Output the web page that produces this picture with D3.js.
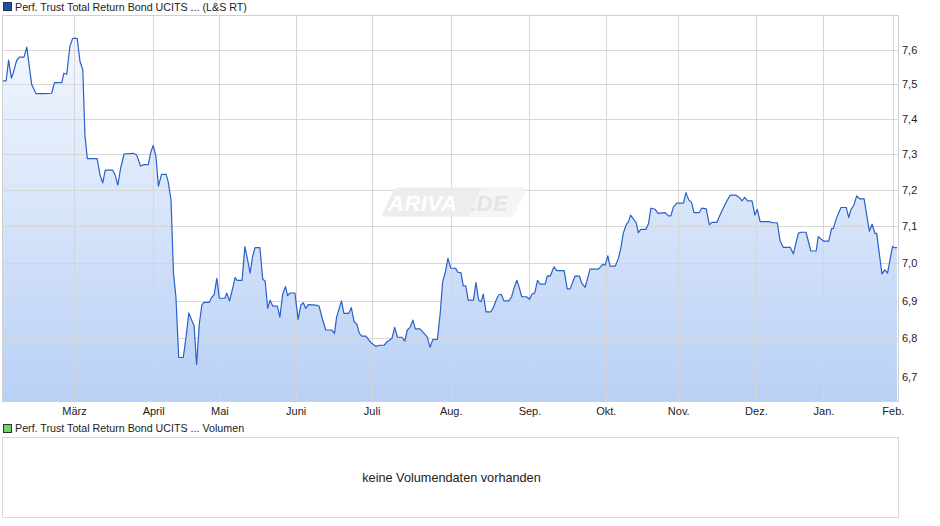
<!DOCTYPE html>
<html>
<head>
<meta charset="utf-8">
<script src="https://cdn.jsdelivr.net/npm/d3@7"></script>
<style>
  html, body { margin: 0; padding: 0; background: #fff; }
  svg { display: block; font-family: "Liberation Sans", Arial, sans-serif; }
</style>
</head>
<body>
<svg id="chart" width="940" height="526"></svg>
<script>
// ---- data (trading-session position, price) ----
const sessions = [0,0.9,1.6,2.4,2.9,3.9,4.7,6.0,6.8,8.2,9.4,12.0,13.9,14.7,16.8,17.4,18.2,19.1,19.9,21.2,22.0,22.8,23.4,24.1,26.9,27.7,28.5,29.2,31.3,32.0,32.8,33.6,34.6,37.2,38.2,39.3,40.1,41.5,42.2,42.9,43.7,44.4,45.3,46.6,47.2,48.0,48.7,49.4,50.2,51.5,52.3,53.1,53.9,54.6,55.3,56.1,56.8,57.4,58.9,59.6,60.3,61.1,61.8,63.4,63.9,64.7,65.5,66.3,66.9,68.3,69.1,69.8,70.6,71.3,72.0,73.4,74.2,74.9,75.6,76.3,77.1,78.4,79.1,79.9,80.7,81.3,82.0,83.4,84.3,85.1,85.8,86.5,87.2,89.4,90.3,91.2,92.2,93.9,94.7,95.3,96.7,97.4,98.8,99.5,100.3,101.1,101.8,102.5,103.7,104.5,105.3,106.6,107.5,108.9,109.8,111.1,111.9,112.7,114.0,114.8,115.5,116.3,117.1,117.8,119.1,120.1,121.2,122.0,122.8,124.1,124.9,125.6,126.4,127.1,127.9,129.3,130.0,130.8,131.5,132.2,132.9,134.4,135.1,135.9,136.6,137.2,138.0,139.4,140.1,141.1,141.8,142.4,143.1,144.5,145.3,146.0,146.8,147.4,148.2,149.6,150.4,151.1,151.9,152.7,153.4,154.9,155.5,156.3,157.4,158.2,160.3,161.2,162.0,163.4,164.7,165.3,166.3,167.7,170.1,171.3,172.0,172.8,173.4,174.9,175.8,176.5,177.2,178.0,178.7,179.3,180.1,180.9,181.5,182.2,183.7,184.4,185.1,186.3,187.2,189.1,190.1,190.8,191.5,192.5,194.4,195.1,195.9,196.7,197.4,198.9,199.6,200.9,201.8,202.5,203.9,205.3,206.3,207.7,209.4,210.4,211.1,211.9,212.7,214.0,214.8,215.5,216.3,219.1,219.7,221.2,222.0,222.9,224.9,225.8,227.2,227.9,229.4,230.8,232.3,232.9,234.4,235.9,236.7,237.2,238.0,239.4,240.9,241.6,242.2,243.1,243.9,244.7,246.0,247.5,248.3,249.1,249.6,251.1,251.9,252.7,254.1,254.7,255.4];
const prices = [7.510,7.510,7.570,7.518,7.532,7.569,7.579,7.579,7.608,7.499,7.473,7.473,7.474,7.505,7.505,7.532,7.529,7.610,7.634,7.634,7.566,7.542,7.355,7.288,7.288,7.243,7.220,7.256,7.256,7.243,7.214,7.261,7.301,7.303,7.298,7.267,7.271,7.271,7.305,7.325,7.294,7.211,7.244,7.244,7.223,7.173,6.973,6.910,6.750,6.750,6.804,6.867,6.848,6.833,6.732,6.839,6.888,6.895,6.895,6.908,6.915,6.959,6.906,6.906,6.920,6.899,6.928,6.961,6.954,6.954,7.045,7.013,6.973,7.018,7.042,7.042,6.957,6.952,6.879,6.901,6.885,6.885,6.856,6.917,6.937,6.913,6.920,6.920,6.850,6.888,6.894,6.879,6.889,6.888,6.885,6.853,6.822,6.822,6.813,6.856,6.899,6.866,6.866,6.881,6.844,6.837,6.813,6.806,6.806,6.796,6.787,6.779,6.782,6.782,6.792,6.800,6.829,6.803,6.803,6.793,6.822,6.829,6.848,6.825,6.825,6.815,6.804,6.777,6.797,6.797,6.866,6.950,6.977,7.013,6.987,6.986,6.975,6.975,6.939,6.939,6.901,6.901,6.948,6.901,6.897,6.917,6.870,6.870,6.882,6.906,6.916,6.916,6.899,6.899,6.910,6.933,6.954,6.937,6.910,6.910,6.903,6.917,6.920,6.954,6.944,6.944,6.966,6.965,6.990,6.980,6.980,6.931,6.931,6.965,6.965,6.947,6.935,6.984,6.984,6.997,6.995,7.020,6.992,6.992,7.013,7.041,7.081,7.104,7.113,7.131,7.120,7.110,7.083,7.092,7.092,7.107,7.150,7.147,7.136,7.138,7.129,7.129,7.153,7.164,7.164,7.193,7.173,7.166,7.138,7.138,7.150,7.148,7.104,7.111,7.111,7.141,7.161,7.186,7.186,7.179,7.170,7.180,7.170,7.170,7.131,7.147,7.113,7.113,7.110,7.110,7.061,7.043,7.043,7.025,7.081,7.084,7.084,7.033,7.033,7.072,7.060,7.060,7.094,7.094,7.120,7.152,7.152,7.124,7.145,7.159,7.184,7.176,7.176,7.087,7.106,7.081,7.081,6.971,6.982,6.973,7.045,7.042,7.042];

const monthLabels = ["März","April","Mai","Juni","Juli","Aug.","Sep.","Okt.","Nov.","Dez.","Jan.","Feb."];
const monthSessions = [20.3,42.9,61.8,83.6,105.3,127.9,150.4,172.2,192.9,215.1,234.4,254.2];
const yTicks = [6.7,6.8,6.9,7.0,7.1,7.2,7.3,7.4,7.5,7.6];
const yTickLabels = ["6,7","6,8","6,9","7,0","7,1","7,2","7,3","7,4","7,5","7,6"];
const seriesName = "Perf. Trust Total Return Bond UCITS ... (L&S RT)";
const volumeName = "Perf. Trust Total Return Bond UCITS ... Volumen";
const noVolumeText = "keine Volumendaten vorhanden";

// ---- layout ----
const plot = { left: 3, right: 898, top: 16, bottom: 401.5 };
const vol = { left: 3, right: 898, top: 437, bottom: 517 };

const svg = d3.select("#chart");
const data = sessions.map((s, i) => ({ s, p: prices[i] }));

const x = d3.scaleLinear().domain([0, 255.4]).range([plot.left, 897]);
const y = d3.scaleLog().domain([6.6365, 7.70]).range([plot.bottom, plot.top]);

// gradient
const defs = svg.append("defs");
const grad = defs.append("linearGradient")
  .attr("id", "fillGrad").attr("gradientUnits", "userSpaceOnUse")
  .attr("x1", 0).attr("x2", 0).attr("y1", plot.top).attr("y2", plot.bottom);
grad.append("stop").attr("offset", "0%").attr("stop-color", "#f6f9ff");
grad.append("stop").attr("offset", "100%").attr("stop-color", "#b9d0f5");

// top legend
svg.append("rect").attr("x", 3.5).attr("y", 2.5).attr("width", 8).attr("height", 8)
  .attr("fill", "#1c4fb4").attr("stroke", "#333").attr("stroke-width", 1);
svg.append("text").attr("x", 15).attr("y", 10.5).attr("font-size", 10.7).attr("fill", "#222")
  .text(seriesName);

// area
svg.append("path").datum(data)
  .attr("fill", "url(#fillGrad)")
  .attr("d", d3.area().x(d => x(d.s)).y0(plot.bottom).y1(d => y(d.p)));

// grid lines
const gridG = svg.append("g");
gridG.selectAll("line.h").data(yTicks).enter().append("line")
  .attr("x1", plot.left).attr("x2", plot.right)
  .attr("y1", d => Math.round(y(d)) + 0.5).attr("y2", d => Math.round(y(d)) + 0.5)
  .attr("stroke", "#d4d4d4").attr("stroke-opacity", 0.9).attr("stroke-width", 1);
gridG.selectAll("line.v").data(monthSessions).enter().append("line")
  .attr("y1", plot.top).attr("y2", plot.bottom)
  .attr("x1", d => Math.round(x(d)) + 0.5).attr("x2", d => Math.round(x(d)) + 0.5)
  .attr("stroke", "#d4d4d4").attr("stroke-opacity", 0.9).attr("stroke-width", 1);

// watermark
const wm = svg.append("g").attr("opacity", 0.9);
wm.append("path")
  .attr("d", "M398,187.5 L522,187.5 Q527,187.5 525,192 L515,212 Q513,216.5 508,216.5 L386,216.5 Q381,216.5 383,212 L393,192 Q395,187.5 398,187.5 Z")
  .attr("fill", "#ececec");
wm.append("path")
  .attr("d", "M482,187.5 L522,187.5 Q527,187.5 525,192 L515,212 Q513,216.5 508,216.5 L468,216.5 Z")
  .attr("fill", "#f4f4f4");
wm.append("text").attr("x", 388).attr("y", 211).attr("font-size", 22).attr("font-weight", "bold")
  .attr("font-style", "italic").attr("fill", "#ffffff").attr("letter-spacing", 0.5).text("ARIVA");
wm.append("text").attr("x", 470).attr("y", 211).attr("font-size", 22).attr("font-weight", "bold")
  .attr("font-style", "italic").attr("fill", "#e2e2e2").attr("letter-spacing", 0.5).text(".DE");

// line
svg.append("path").datum(data)
  .attr("fill", "none").attr("stroke", "#2a60c8").attr("stroke-width", 1.2)
  .attr("stroke-linejoin", "round")
  .attr("d", d3.line().x(d => x(d.s)).y(d => y(d.p)));

// frame
svg.append("rect").attr("x", plot.left - 0.5).attr("y", plot.top - 0.5)
  .attr("width", plot.right - plot.left + 1).attr("height", plot.bottom - plot.top + 0.5)
  .attr("fill", "none").attr("stroke", "#d0d0d0").attr("stroke-width", 1);

// y axis (right)
const yAxis = d3.axisRight(y).tickValues(yTicks).tickSize(0).tickPadding(4)
  .tickFormat((d, i) => yTickLabels[i]);
const yg = svg.append("g").attr("transform", `translate(${plot.right},0)`).call(yAxis);
yg.select(".domain").remove();
yg.selectAll("text").attr("font-size", 11).attr("fill", "#222")
  .attr("font-family", "'Liberation Sans', Arial, sans-serif");

// x axis
const xAxis = d3.axisBottom(x).tickValues(monthSessions).tickSize(0).tickPadding(6)
  .tickFormat((d, i) => monthLabels[i]);
const xg = svg.append("g").attr("transform", `translate(0,${plot.bottom})`).call(xAxis);
xg.select(".domain").remove();
xg.selectAll("text").attr("font-size", 11).attr("fill", "#222")
  .attr("font-family", "'Liberation Sans', Arial, sans-serif");

// volume legend
svg.append("rect").attr("x", 3.5).attr("y", 424.5).attr("width", 8).attr("height", 8)
  .attr("fill", "#6fd36f").attr("stroke", "#333").attr("stroke-width", 1);
svg.append("text").attr("x", 15).attr("y", 432).attr("font-size", 10.7).attr("fill", "#222")
  .text(volumeName);

// volume panel
svg.append("rect").attr("x", vol.left - 0.5).attr("y", vol.top + 0.5)
  .attr("width", vol.right - vol.left + 1).attr("height", vol.bottom - vol.top)
  .attr("fill", "none").attr("stroke", "#d8d8d8").attr("stroke-width", 1);
svg.append("text").attr("x", (vol.left + vol.right) / 2 + 1).attr("y", 481.5)
  .attr("text-anchor", "middle").attr("font-size", 12.7).attr("fill", "#222")
  .text(noVolumeText);
</script>
</body>
</html>
